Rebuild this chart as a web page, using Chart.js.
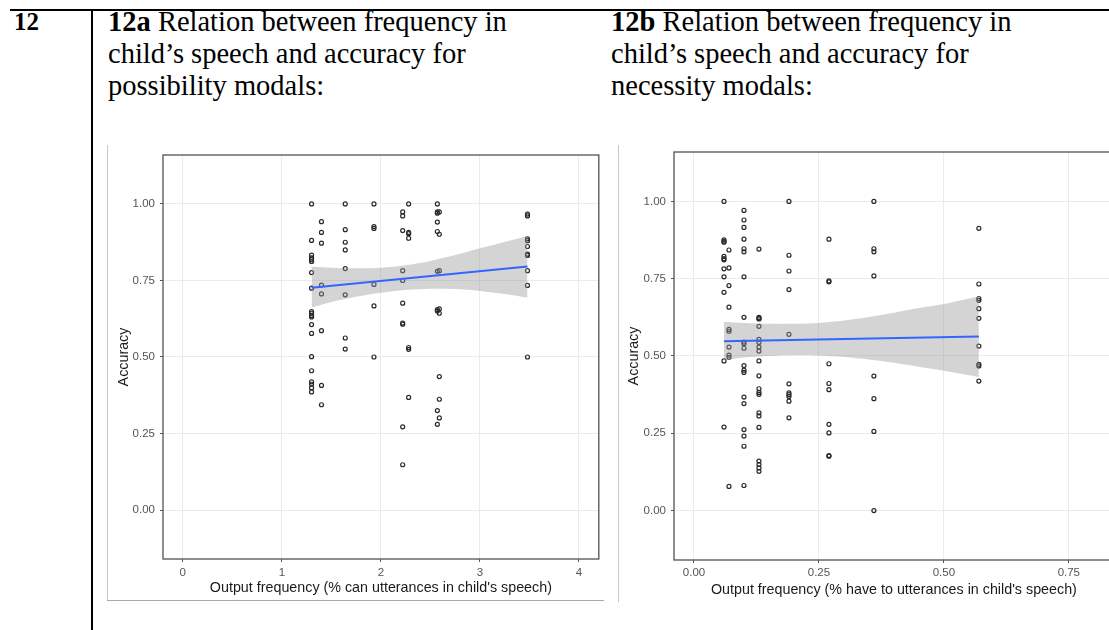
<!DOCTYPE html>
<html>
<head>
<meta charset="utf-8">
<script src="https://cdn.jsdelivr.net/npm/chart.js@4.4.0/dist/chart.umd.min.js"></script>
<style>
  html, body { margin: 0; padding: 0; background: #fff; }
  body { position: relative; width: 1109px; height: 630px; overflow: hidden; }
  .rule-top { position: absolute; left: 10px; top: 9px; width: 1099px; height: 2px; background: #000; }
  .rule-col { position: absolute; left: 91px; top: 9px; width: 2px; height: 621px; background: #000; }
  .rownum { position: absolute; left: 14px; top: 6px; font: bold 25px "Liberation Serif", serif; line-height: 32px; color: #000; }
  .caption { position: absolute; top: 6px; font: 28.5px "Liberation Serif", serif; line-height: 32px; color: #000; white-space: nowrap; }
  .frame-v { position: absolute; width: 1px; background: #c8c8c8; }
  .frame-h { position: absolute; height: 1px; background: #a8a8a8; }
  canvas { position: absolute; }
</style>
</head>
<body>
<div class="rule-top"></div>
<div class="rule-col"></div>
<div class="rownum">12</div>
<div class="caption" style="left:108px"><b>12a</b> Relation between frequency in<br>child’s speech and accuracy for<br>possibility modals:</div>
<div class="caption" style="left:611px"><b>12b</b> Relation between frequency in<br>child’s speech and accuracy for<br>necessity modals:</div>

<div class="frame-v" style="left:107px; top:145px; height:455px"></div>
<div class="frame-h" style="left:107px; top:600px; width:497px"></div>
<div class="frame-v" style="left:618px; top:145px; height:457px"></div>

<canvas id="canChart" width="496" height="454" style="left:108px; top:146px"></canvas>
<canvas id="haveChart" width="500" height="455" style="left:619px; top:146px"></canvas>

<script>
// ---- Possibility modals ("can") ----
// output frequency (% of the child's utterances) and the accuracy scores observed at each
const canFreq = [1.30, 1.40, 1.64, 1.93, 2.22, 2.28, 2.57, 2.59, 3.48];
const canAccuracy = [
  [1.00, 0.881, 0.833, 0.824, 0.818, 0.812, 0.776, 0.725, 0.648, 0.643, 0.636, 0.631, 0.606, 0.577, 0.501, 0.455, 0.419, 0.411, 0.399, 0.386],
  [0.942, 0.907, 0.872, 0.735, 0.706, 0.586, 0.407, 0.344],
  [1.00, 0.916, 0.875, 0.850, 0.789, 0.703, 0.562, 0.526],
  [1.00, 0.926, 0.920, 0.737, 0.667, 0.500],
  [0.974, 0.961, 0.913, 0.782, 0.750, 0.676, 0.611, 0.607, 0.272, 0.148],
  [1.00, 0.907, 0.903, 0.888, 0.531, 0.525, 0.368],
  [1.00, 0.974, 0.970, 0.941, 0.910, 0.780, 0.655, 0.650, 0.325, 0.280],
  [0.974, 0.901, 0.782, 0.657, 0.643, 0.436, 0.362, 0.301],
  [0.967, 0.961, 0.886, 0.880, 0.861, 0.836, 0.832, 0.782, 0.734, 0.500]
];
// fitted linear trend and its confidence band
const canFitX = [1.30, 3.48];
const canFitY = [0.726, 0.796];
const canBandX  = [1.30, 1.50, 1.75, 2.00, 2.25, 2.50, 2.75, 3.00, 3.25, 3.48];
const canBandHi = [0.795, 0.792, 0.790, 0.792, 0.800, 0.814, 0.833, 0.855, 0.876, 0.895];
const canBandLo = [0.662, 0.680, 0.697, 0.710, 0.719, 0.723, 0.722, 0.716, 0.706, 0.694];
const canTicks = [0, 1, 2, 3, 4];
const canTickLabels = ['0', '1', '2', '3', '4'];

// ---- Necessity modals ("have to") ----
const haveFreq = [0.06, 0.07, 0.10, 0.13, 0.19, 0.27, 0.36, 0.57];
const haveAccuracy = [
  [1.00, 0.876, 0.871, 0.868, 0.822, 0.815, 0.811, 0.782, 0.756, 0.706, 0.484, 0.270],
  [0.843, 0.785, 0.728, 0.658, 0.586, 0.580, 0.529, 0.503, 0.496, 0.078],
  [0.971, 0.940, 0.916, 0.878, 0.847, 0.837, 0.756, 0.625, 0.545, 0.540, 0.525, 0.469, 0.454, 0.447, 0.367, 0.346, 0.262, 0.241, 0.208, 0.081],
  [0.846, 0.625, 0.622, 0.620, 0.596, 0.554, 0.544, 0.529, 0.516, 0.484, 0.436, 0.394, 0.382, 0.376, 0.316, 0.306, 0.269, 0.160, 0.149, 0.138, 0.127],
  [1.00, 0.826, 0.775, 0.715, 0.570, 0.410, 0.381, 0.375, 0.369, 0.354, 0.300],
  [0.878, 0.743, 0.740, 0.475, 0.411, 0.391, 0.279, 0.251, 0.178, 0.176],
  [1.00, 0.847, 0.837, 0.759, 0.435, 0.362, 0.256, 0.000],
  [0.913, 0.733, 0.686, 0.680, 0.653, 0.622, 0.532, 0.473, 0.468, 0.419]
];
const haveFitX = [0.06, 0.57];
const haveFitY = [0.548, 0.563];
const haveBandX  = [0.06, 0.10, 0.15, 0.20, 0.25, 0.30, 0.35, 0.40, 0.45, 0.50, 0.57];
const haveBandHi = [0.611, 0.607, 0.604, 0.604, 0.607, 0.615, 0.626, 0.640, 0.655, 0.668, 0.693];
const haveBandLo = [0.486, 0.495, 0.500, 0.503, 0.502, 0.497, 0.489, 0.478, 0.465, 0.452, 0.432];
const haveTicks = [0, 0.25, 0.50, 0.75];
const haveTickLabels = ['0.00', '0.25', '0.50', '0.75'];

// ---- shared y axis ----
const accTicks = [0, 0.25, 0.50, 0.75, 1.00];
const accTickLabels = ['0.00', '0.25', '0.50', '0.75', '1.00'];

const SANS = '"Liberation Sans", Arial, sans-serif';

// ggplot-style panel border around the plotting area
const panelBorder = {
  id: 'panelBorder',
  afterDraw(chart) {
    const { ctx, chartArea: a } = chart;
    ctx.save();
    ctx.strokeStyle = '#5e5e5e';
    ctx.lineWidth = 1.4;
    ctx.strokeRect(a.left, a.top, a.right - a.left, a.bottom - a.top);
    ctx.restore();
  }
};

function pairs(xs, ys) { return xs.map((x, i) => ({ x: x, y: ys[i] })); }

function makeScatter(id, s) {
  const points = [];
  s.freq.forEach((f, i) => s.acc[i].forEach(a => points.push({ x: f, y: a })));

  const tickScale = (values, labels) => ({
    afterBuildTicks(scale) { scale.ticks = values.map(v => ({ value: v })); },
    ticksCb(v) { const k = values.findIndex(t => Math.abs(t - v) < 1e-9); return k >= 0 ? labels[k] : ''; }
  });
  const xt = tickScale(s.xTicks, s.xLabels);
  const yt = tickScale(accTicks, accTickLabels);

  return new Chart(document.getElementById(id), {
    type: 'scatter',
    data: {
      datasets: [
        { type: 'line', data: pairs(s.fitX, s.fitY), borderColor: '#3366FF', borderWidth: 2,
          pointRadius: 0, fill: false, order: 0 },
        { type: 'line', data: pairs(s.bandX, s.bandHi), borderWidth: 0, borderColor: 'rgba(0,0,0,0)',
          pointRadius: 0, tension: 0.3, fill: '+1', backgroundColor: 'rgba(153,153,153,0.42)', order: 1 },
        { type: 'line', data: pairs(s.bandX, s.bandLo), borderWidth: 0, borderColor: 'rgba(0,0,0,0)',
          pointRadius: 0, tension: 0.3, fill: false, order: 2 },
        { data: points, pointStyle: 'circle', pointRadius: 2.0, borderWidth: 1.2,
          borderColor: '#2a2a2a', backgroundColor: 'rgba(0,0,0,0)', order: 3 }
      ]
    },
    options: {
      responsive: false,
      animation: false,
      devicePixelRatio: 1,
      layout: { padding: { top: s.padTop, right: 5, left: 0, bottom: 0 } },
      plugins: { legend: { display: false }, tooltip: { enabled: false } },
      scales: {
        x: {
          type: 'linear', min: s.xMin, max: s.xMax,
          afterBuildTicks: xt.afterBuildTicks,
          afterFit(scale) { scale.height = s.xAxisH; scale.paddingLeft = 0; scale.paddingRight = 0; },
          grid: { color: '#ebebeb', lineWidth: 1, drawTicks: true, tickLength: 3, tickColor: '#555' },
          border: { display: false },
          ticks: { callback: xt.ticksCb, color: '#555', padding: s.xTickPad, maxRotation: 0,
                   font: { family: SANS, size: 11.5 } },
          title: { display: true, text: s.xTitle, color: '#1a1a1a',
                   font: { family: SANS, size: 14.3 }, padding: { top: 0, bottom: s.xTitlePad } }
        },
        y: {
          type: 'linear', min: -0.16, max: 1.16,
          afterBuildTicks: yt.afterBuildTicks,
          afterFit(scale) { scale.width = s.yAxisW; scale.paddingTop = 0; scale.paddingBottom = 0; },
          grid: { color: '#ebebeb', lineWidth: 1, drawTicks: true, tickLength: 3, tickColor: '#555' },
          border: { display: false },
          ticks: { callback: yt.ticksCb, color: '#555', padding: 5,
                   font: { family: SANS, size: 11.5 } },
          title: { display: true, text: 'Accuracy', color: '#1a1a1a',
                   font: { family: SANS, size: 14.3 }, padding: { top: s.yTitlePad, bottom: 0 } }
        }
      }
    },
    plugins: [panelBorder]
  });
}

makeScatter('canChart', {
  freq: canFreq, acc: canAccuracy,
  fitX: canFitX, fitY: canFitY,
  bandX: canBandX, bandHi: canBandHi, bandLo: canBandLo,
  xTicks: canTicks, xLabels: canTickLabels,
  xMin: -0.2, xMax: 4.2,
  xTitle: "Output frequency (% can utterances in child's speech)",
  padTop: 9, xAxisH: 41, yAxisW: 55, xTickPad: 4, xTitlePad: 3, yTitlePad: 7
});

makeScatter('haveChart', {
  freq: haveFreq, acc: haveAccuracy,
  fitX: haveFitX, fitY: haveFitY,
  bandX: haveBandX, bandHi: haveBandHi, bandLo: haveBandLo,
  xTicks: haveTicks, xLabels: haveTickLabels,
  xMin: -0.04, xMax: 0.84,
  xTitle: "Output frequency (% have to utterances in child's speech)",
  padTop: 6, xAxisH: 41, yAxisW: 55, xTickPad: 3, xTitlePad: 2, yTitlePad: 6
});
</script>
</body>
</html>
